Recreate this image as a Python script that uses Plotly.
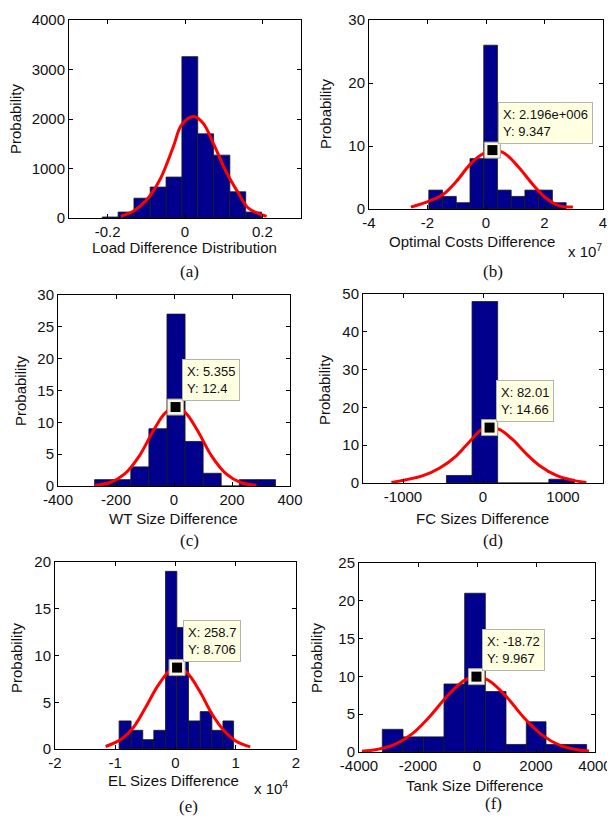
import plotly.graph_objects as go

W, H = 615, 819          # browser window
OFF = 8                  # default page body margin
FW, FH = W - OFF, H - OFF

# ---------------- data ----------------
# (a) Load Difference Distribution
edges_a = [-0.214, -0.173, -0.132, -0.090, -0.049, -0.008, 0.033, 0.074, 0.116, 0.157, 0.198]
counts_a = [20, 120, 400, 625, 827, 3260, 1700, 1270, 530, 120]
fit_x_a = [-0.166, -0.134, -0.099, -0.065, -0.030, -0.009, 0.022, 0.047, 0.073, 0.108, 0.138, 0.164, 0.211]
fit_y_a = [35, 135, 370, 773, 1445, 1880, 2050, 1916, 1513, 908, 504, 200, 34]

# (b) Optimal Costs Difference
edges_b = [-1.955e7, -1.486e7, -1.016e7, -0.547e7, -0.077e7, 0.392e7, 0.861e7, 1.331e7, 1.800e7, 2.270e7, 2.739e7]
counts_b = [3, 2, 1, 8, 26, 3, 2, 3, 3, 1]
fit_x_b = [-2.57e7, -1.92e7, -1.47e7, -1.01e7, -0.56e7, -0.16e7, 0.2196e7, 0.64e7, 1.09e7, 1.60e7, 2.06e7, 2.51e7, 2.97e7]
fit_y_b = [0.3, 1.3, 2.3, 4.4, 7.0, 8.6, 9.347, 8.8, 6.8, 3.9, 1.7, 0.5, 0.3]
tip_b = (2.196e6, 9.347)

# (c) WT Size Difference
edges_c = [-273.7, -211.3, -149.0, -86.6, -24.2, 38.1, 100.5, 162.8, 225.2, 287.5, 349.9]
counts_c = [1, 1, 3, 9, 27, 7, 2, 0, 1, 1]
fit_x_c = [-273, -220, -170, -120, -70, -30, 5.355, 40, 80, 130, 180, 230, 284]
fit_y_c = [0.1, 0.55, 1.9, 4.7, 8.8, 11.5, 12.4, 11.5, 8.8, 4.7, 1.9, 0.55, 0.1]
tip_c = (5.355, 12.4)

# (d) FC Sizes Difference
edges_d = [-457, -137, 183, 503, 823, 1143]
counts_d = [2, 48, 0, 0, 1]
fit_x_d = [-1145, -958, -750, -541, -333, -166, -20, 82.01, 209, 375, 542, 709, 917, 1125, 1292]
fit_y_d = [0.16, 0.87, 1.93, 3.96, 7.2, 11.0, 14.1, 14.66, 14.1, 11.4, 7.7, 4.57, 2.0, 0.7, 0.16]
tip_d = (82.01, 14.66)

# (e) EL Sizes Difference
edges_e = [-9360, -7370, -5430, -3600, -1660, 220, 2160, 4100, 6040, 7870, 9640]
counts_e = [3, 2, 1, 2, 19, 13, 3, 4, 2, 3]
fit_x_e = [-11600, -9000, -7000, -5000, -3000, -1000, 258.7, 2000, 4000, 6000, 8000, 10000, 12400]
fit_y_e = [0.27, 1.04, 2.3, 4.4, 6.7, 8.36, 8.706, 8.08, 6.2, 3.8, 2.0, 0.85, 0.23]
tip_e = (258.7, 8.706)

# (f) Tank Size Difference
edges_f = [-3210, -2508, -1807, -1119, -418, 282, 983, 1672, 2339, 3028, 3718]
counts_f = [3, 2, 2, 9, 21, 8, 1, 4, 1, 1]
fit_x_f = [-3900, -3400, -2800, -2200, -1600, -1000, -400, -18.72, 400, 1000, 1600, 2200, 2800, 3400, 3800]
fit_y_f = [0.1, 0.32, 0.97, 2.39, 4.7, 7.45, 9.54, 9.967, 9.45, 7.3, 4.5, 2.27, 0.91, 0.3, 0.12]
tip_f = (-18.72, 9.967)

x_titles = ["Load Difference Distribution", "Optimal Costs Difference", "WT Size Difference",
            "FC Sizes Difference", "EL Sizes Difference", "Tank Size Difference"]
panel_letters = ["(a)", "(b)", "(c)", "(d)", "(e)", "(f)"]
tip_texts = [None, ("2.196e+006", "9.347"), ("5.355", "12.4"), ("82.01", "14.66"),
             ("258.7", "8.706"), ("-18.72", "9.967")]

# ---------------- layout geometry (window pixel coordinates) ----------------
panels = [
    dict(edges=edges_a, counts=counts_a, fx=fit_x_a, fy=fit_y_a, tip=None,
         rect=(69, 20, 301, 218), xr=[-0.3, 0.3], yr=[0, 4000],
         xt=[-0.2, 0, 0.2], xtt=["-0.2", "0", "0.2"], yt=[0, 1000, 2000, 3000, 4000],
         xtitle=(184, 248), ytitle=(15, 119), letter=(189, 271)),
    dict(edges=edges_b, counts=counts_b, fx=fit_x_b, fy=fit_y_b, tip=tip_b,
         rect=(369, 20, 603, 209), xr=[-4e7, 4e7], yr=[0, 30],
         xt=[-4e7, -2e7, 0, 2e7, 4e7], xtt=["-4", "-2", "0", "2", "4"], yt=[0, 10, 20, 30],
         xtitle=(472, 242), ytitle=(326, 114), letter=(493, 271), expo=("x 10<sup>7</sup>", 566, 251)),
    dict(edges=edges_c, counts=counts_c, fx=fit_x_c, fy=fit_y_c, tip=tip_c,
         rect=(58, 295, 290, 486), xr=[-400, 400], yr=[0, 30],
         xt=[-400, -200, 0, 200, 400], xtt=["-400", "-200", "0", "200", "400"], yt=[0, 5, 10, 15, 20, 25, 30],
         xtitle=(173, 518), ytitle=(20, 391), letter=(189, 540)),
    dict(edges=edges_d, counts=counts_d, fx=fit_x_d, fy=fit_y_d, tip=tip_d,
         rect=(363, 294, 603, 483), xr=[-1500, 1500], yr=[0, 50],
         xt=[-1000, 0, 1000], xtt=["-1000", "0", "1000"], yt=[0, 10, 20, 30, 40, 50],
         xtitle=(482, 518), ytitle=(324, 390), letter=(493, 540)),
    dict(edges=edges_e, counts=counts_e, fx=fit_x_e, fy=fit_y_e, tip=tip_e,
         rect=(55, 562, 296, 749), xr=[-2e4, 2e4], yr=[0, 20],
         xt=[-2e4, -1e4, 0, 1e4, 2e4], xtt=["-2", "-1", "0", "1", "2"], yt=[0, 5, 10, 15, 20],
         xtitle=(173, 780), ytitle=(16, 658), letter=(188, 806), expo=("x 10<sup>4</sup>", 252, 787)),
    dict(edges=edges_f, counts=counts_f, fx=fit_x_f, fy=fit_y_f, tip=tip_f,
         rect=(359, 563, 595, 752), xr=[-4000, 4000], yr=[0, 25],
         xt=[-4000, -2000, 0, 2000, 4000], xtt=["-4000", "-2000", "0", "2000", "4000"], yt=[0, 5, 10, 15, 20, 25],
         xtitle=(475, 785), ytitle=(316, 658), letter=(493, 803)),
]

FONT = "Liberation Sans, Arial, Helvetica, sans-serif"
SERIF = "Liberation Serif, Times New Roman, serif"
BAR = "#00008c"


def px(x):
    return (x - OFF) / FW


def py(y):
    return 1 - (y - OFF) / FH


fig = go.Figure()
annotations = []
layout = {}

for i, p in enumerate(panels):
    n = "" if i == 0 else str(i + 1)
    xa, ya = "x" + n, "y" + n
    e = p["edges"]
    centers = [(e[k] + e[k + 1]) / 2 for k in range(len(p["counts"]))]
    widths = [(e[k + 1] - e[k]) for k in range(len(p["counts"]))]
    fig.add_trace(go.Bar(x=centers, y=p["counts"], width=widths, xaxis=xa, yaxis=ya,
                         marker=dict(color=BAR, line=dict(color="#1a1a1a", width=0.8)),
                         showlegend=False, hoverinfo="skip"))
    fig.add_trace(go.Scatter(x=p["fx"], y=p["fy"], xaxis=xa, yaxis=ya, mode="lines",
                             line=dict(color="#ff0000", width=3, shape="spline", smoothing=1.0),
                             showlegend=False, hoverinfo="skip"))
    if p["tip"] is not None:
        tx, ty = p["tip"]
        fig.add_trace(go.Scatter(x=[tx], y=[ty], xaxis=xa, yaxis=ya, mode="markers",
                                 marker=dict(symbol="square", size=16, color="#fbf8e0",
                                             line=dict(color="#a8a890", width=1)),
                                 showlegend=False, hoverinfo="skip"))
        fig.add_trace(go.Scatter(x=[tx], y=[ty], xaxis=xa, yaxis=ya, mode="markers",
                                 marker=dict(symbol="square", size=10, color="#000000"),
                                 showlegend=False, hoverinfo="skip"))
        sx, sy = tip_texts[i]
        annotations.append(dict(x=tx, y=ty, xref=xa, yref=ya, xanchor="left", yanchor="bottom",
                                xshift=6, yshift=6, showarrow=False, align="left",
                                text="X: " + sx + "<br>Y: " + sy,
                                font=dict(family=FONT, size=13, color="#111111"),
                                bgcolor="#ffffe1", bordercolor="#b4b4a8", borderwidth=1, borderpad=4))

    x0, y0, x1, y1 = p["rect"]
    common = dict(showline=True, linecolor="#000000", linewidth=1, mirror="ticks",
                  ticks="inside", ticklen=4, tickcolor="#000000", showgrid=False, zeroline=False,
                  automargin=False,
                  tickfont=dict(family=FONT, size=15, color="#111111"), fixedrange=True)
    layout["xaxis" + n] = dict(domain=[px(x0), px(x1)], range=p["xr"], anchor=ya,
                               tickmode="array", tickvals=p["xt"], ticktext=p["xtt"], **common)
    layout["yaxis" + n] = dict(domain=[py(y1), py(y0)], range=p["yr"], anchor=xa,
                               tickmode="array", tickvals=p["yt"], ticktext=[str(v) for v in p["yt"]], **common)

    annotations.append(dict(x=px(p["xtitle"][0]), y=py(p["xtitle"][1]), xref="paper", yref="paper",
                            xanchor="center", yanchor="middle", showarrow=False, text=x_titles[i],
                            font=dict(family=FONT, size=15, color="#111111")))
    annotations.append(dict(x=px(p["ytitle"][0]), y=py(p["ytitle"][1]), xref="paper", yref="paper",
                            xanchor="center", yanchor="middle", showarrow=False, text="Probability",
                            textangle=-90, font=dict(family=FONT, size=15, color="#111111")))
    annotations.append(dict(x=px(p["letter"][0]), y=py(p["letter"][1]), xref="paper", yref="paper",
                            xanchor="center", yanchor="middle", showarrow=False, text=panel_letters[i],
                            font=dict(family=SERIF, size=17, color="#111111")))
    if "expo" in p:
        t, ex, ey = p["expo"]
        annotations.append(dict(x=px(ex), y=py(ey), xref="paper", yref="paper",
                                xanchor="left", yanchor="middle", showarrow=False, text=t,
                                font=dict(family=FONT, size=15, color="#111111")))

fig.update_layout(width=FW, height=FH, margin=dict(l=0, r=0, t=0, b=0),
                  paper_bgcolor="#ffffff", plot_bgcolor="#ffffff",
                  annotations=annotations, showlegend=False, barmode="overlay", **layout)

fig.write_html("out.html", config={"displayModeBar": False})
